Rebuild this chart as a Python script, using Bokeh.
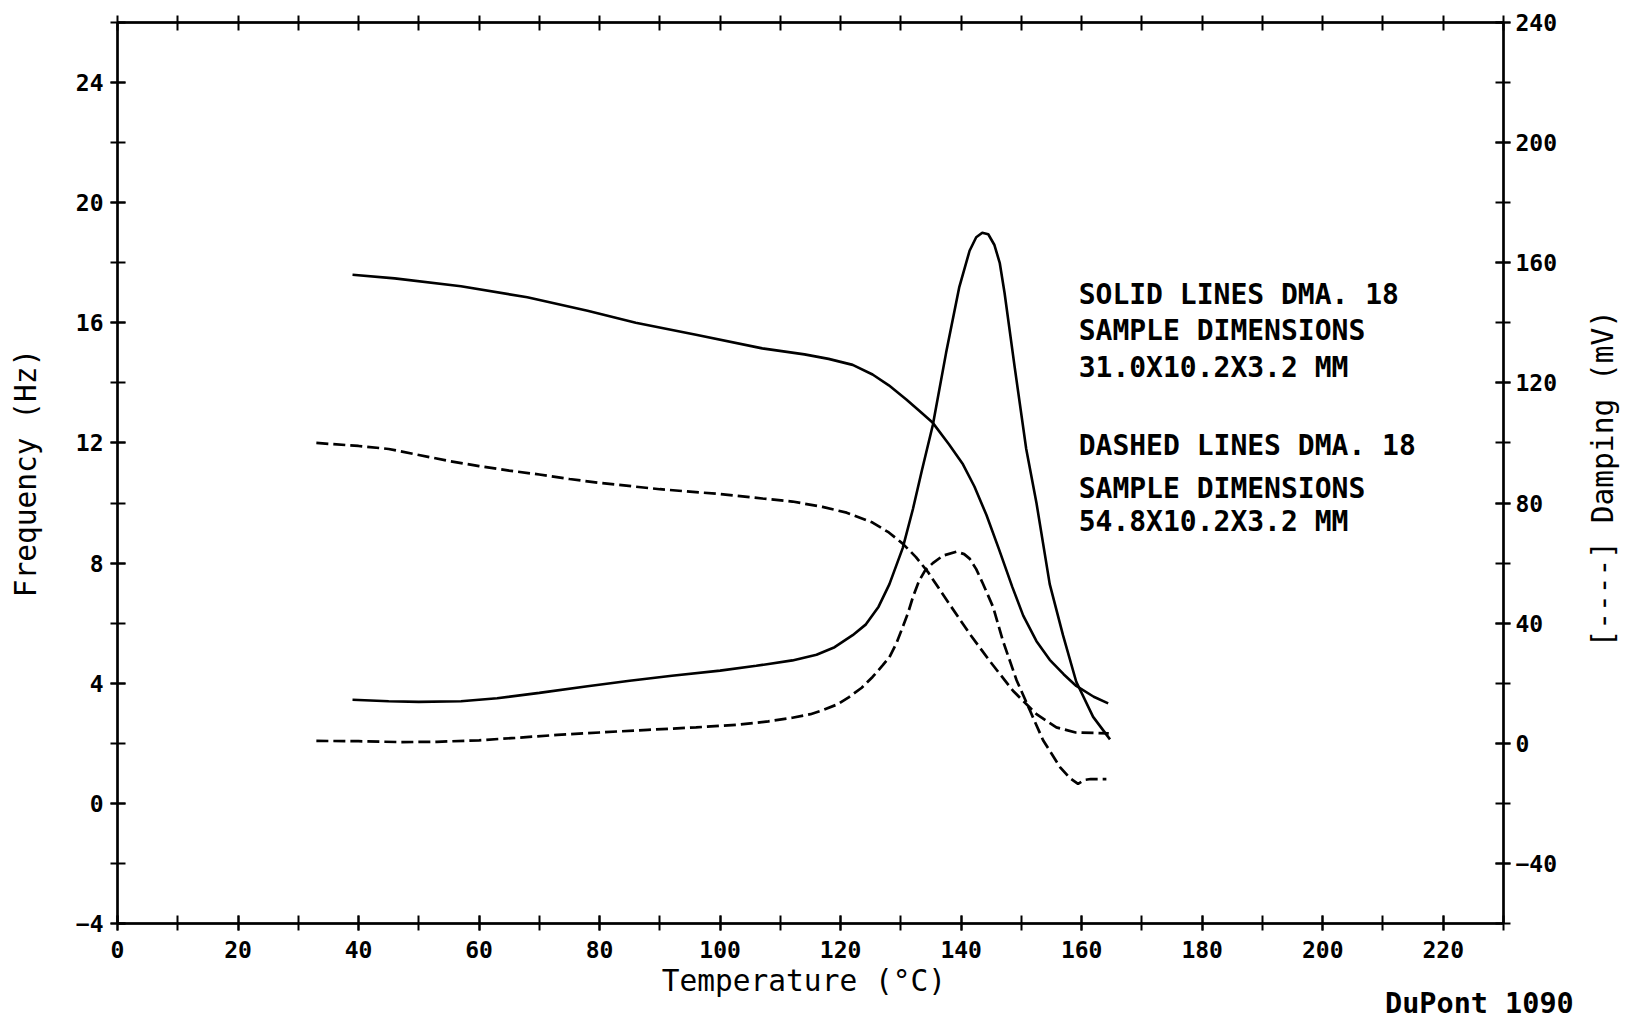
import math
from bokeh.plotting import figure
from bokeh.models import Range1d, LinearAxis, FixedTicker
from bokeh.embed import file_html
from bokeh.resources import INLINE
from bokeh.core.properties import value

# ---------------- data ----------------
# solid lines: sample 31.0 x 10.2 x 3.2 mm
solid_freq_t = [39, 46, 57, 68, 78, 86, 96, 107, 114, 118, 122, 125.3, 128, 130.9, 133,
                135.3, 138, 140.3, 142.2, 144.2, 146.3, 148.5, 150.3, 152.5, 154.7, 157,
                159.1, 162, 164.4]
solid_freq_hz = [17.6, 17.48, 17.22, 16.85, 16.4, 16.0, 15.6, 15.15, 14.95, 14.8, 14.6, 14.28,
                 13.92, 13.45, 13.08, 12.67, 11.95, 11.29, 10.55, 9.6, 8.45, 7.2, 6.25, 5.4,
                 4.78, 4.3, 3.91, 3.55, 3.33]

solid_damp_t = [39, 45, 50, 57, 63, 70, 78, 85, 92, 100, 106, 112, 116, 119, 122, 124.2,
                126.3, 128.1, 130.3, 132, 133.5, 135.3, 137.5, 139.7, 141.4, 142.5, 143.5,
                144.5, 145.5, 146.4, 147.2, 148.9, 150.8, 152.5, 154.7, 156.9, 159.1, 161.9,
                164.7]
solid_damp_mv = [14.5, 14.0, 13.8, 14.0, 15.0, 16.8, 19.0, 20.8, 22.5, 24.2, 25.8, 27.6, 29.5,
                 32.0, 36.0, 39.6, 45.5, 53, 65, 78, 91, 106, 130, 152, 164, 168.5, 170, 169.5,
                 166, 160, 150, 125, 98, 80, 53, 36, 20.5, 8.8, 1.3]

# dashed lines: sample 54.8 x 10.2 x 3.2 mm
dashed_freq_t = [33, 40, 45, 50, 55, 60, 65, 70, 75, 80, 90, 100, 107, 112, 117, 121, 125.3,
                 128, 130.3, 132.5, 134.5, 138, 141.4, 144.7, 148.6, 152.5, 155.8, 159, 164.5]
dashed_freq_hz = [12.0, 11.9, 11.8, 11.6, 11.4, 11.23, 11.08, 10.95, 10.8, 10.67, 10.46, 10.3,
                  10.15, 10.05, 9.87, 9.68, 9.35, 9.02, 8.65, 8.2, 7.7, 6.65, 5.65, 4.75, 3.75,
                  2.97, 2.53, 2.36, 2.33]

dashed_damp_t = [33, 40, 47, 53, 60, 66, 73, 80, 88, 96, 103, 108, 112, 115, 117, 119.5, 121.4,
                 123.5, 125.3, 127, 128.1, 129.3, 130.3, 131.2, 132, 133, 134, 135.3, 137,
                 139.2, 140.5, 141.4, 142.5, 143.6, 145.3, 146.9, 149.2, 151.4, 153.6, 156.4,
                 158, 159.4, 160.5, 161.5, 164.1]
dashed_damp_mv = [0.8, 0.7, 0.4, 0.5, 1.0, 1.8, 2.8, 3.6, 4.5, 5.3, 6.2, 7.3, 8.5, 9.7, 11.0,
                  13.0, 15.4, 18.5, 22.1, 26, 28.7, 33.5, 38.7, 43.5, 48.7, 54, 57.5, 60, 62.5,
                  63.8, 63, 61.5, 58, 53.2, 45.4, 34.3, 21, 11, 1, -7.9, -11.5, -13.5, -12.2,
                  -11.9, -11.9]

x_labels = list(range(0, 221, 20))
x_minor = list(range(0, 231, 10))
freq_labels = list(range(-4, 25, 4))
freq_minor = list(range(-4, 27, 2))
damp_labels = list(range(-40, 241, 40))
damp_minor = list(range(-60, 241, 20))

notes = ["SOLID LINES DMA. 18", "SAMPLE DIMENSIONS", "31.0X10.2X3.2 MM",
         "DASHED LINES DMA. 18", "SAMPLE DIMENSIONS", "54.8X10.2X3.2 MM"]
notes_x = [159.5] * 6
notes_y = [16.94, 15.76, 14.51, 11.9, 10.5, 9.38]

x_title = "Temperature (°C)"
x_title_at = 113.9
freq_title = "Frequency (Hz)"
damp_title = "[----] Damping (mV)"
damp_title_at = 31.9
maker_text = "DuPont 1090"
maker_x = 226

FONT = "DejaVu Sans Mono"
TITLE_SIZE = "29.5px"

# ---------------- figure ----------------
p = figure(width=1640, height=1022, output_backend="svg", toolbar_location=None,
           x_range=Range1d(0, 230), y_range=Range1d(-4, 26),
           min_border_left=117, min_border_right=137, min_border_top=22,
           min_border_bottom=99)
p.extra_y_ranges = {"damp": Range1d(-60, 240)}
p.xgrid.visible = False
p.ygrid.visible = False
p.outline_line_color = "black"
p.outline_line_width = 2
p.background_fill_color = "white"
p.border_fill_color = "white"


def style(ax, standoff):
    ax.axis_line_width = 2.4
    ax.axis_line_color = "black"
    ax.major_tick_line_width = 2
    ax.minor_tick_line_width = 2
    ax.major_tick_line_color = "black"
    ax.minor_tick_line_color = "black"
    ax.major_tick_in = 8
    ax.major_tick_out = 7
    ax.minor_tick_in = 8
    ax.minor_tick_out = 7
    ax.major_label_text_font = FONT
    ax.major_label_text_font_style = "bold"
    ax.major_label_text_font_size = "23px"
    ax.major_label_text_color = "black"
    ax.major_label_standoff = standoff
    ax.axis_label_text_font = FONT
    ax.axis_label_text_font_style = "normal"
    ax.axis_label_text_font_size = TITLE_SIZE
    ax.axis_label_text_color = "black"


def bare(ax):
    ax.axis_line_color = None
    ax.major_tick_line_color = None
    ax.minor_tick_line_color = None
    ax.major_tick_in = 0
    ax.major_tick_out = 0
    ax.minor_tick_in = 0
    ax.minor_tick_out = 0


xa = p.xaxis[0]
xa.ticker = FixedTicker(ticks=x_labels, minor_ticks=x_minor)
style(xa, 10)

ya = p.yaxis[0]
ya.ticker = FixedTicker(ticks=freq_labels, minor_ticks=freq_minor)
style(ya, 7)
ya.axis_label = freq_title
ya.axis_label_standoff = 30

ra = LinearAxis(y_range_name="damp", ticker=FixedTicker(ticks=damp_labels, minor_ticks=damp_minor))
style(ra, 5)
p.add_layout(ra, "right")

# right-hand title, reading upwards, drawn as a tick label of a bare axis
da = LinearAxis(y_range_name="damp", ticker=FixedTicker(ticks=[damp_title_at], minor_ticks=[]),
                major_label_overrides={damp_title_at: damp_title},
                major_label_orientation=math.pi / 2)
style(da, 43)
bare(da)
da.major_label_text_font_style = "normal"
da.major_label_text_font_size = TITLE_SIZE
p.add_layout(da, "right")

ta = LinearAxis(ticker=FixedTicker(ticks=[], minor_ticks=x_minor))
style(ta, 0)
p.add_layout(ta, "above")

# temperature title, drawn as a tick label of a bare axis under the numbers
ka = LinearAxis(ticker=FixedTicker(ticks=[x_title_at], minor_ticks=[]),
                major_label_overrides={x_title_at: x_title})
style(ka, 3)
bare(ka)
ka.major_label_text_font_style = "normal"
ka.major_label_text_font_size = TITLE_SIZE
p.add_layout(ka, "below")

# maker's imprint, placed under the temperature title
ma = LinearAxis(ticker=FixedTicker(ticks=[maker_x], minor_ticks=[]),
                major_label_overrides={maker_x: maker_text})
style(ma, -14)
bare(ma)
ma.major_label_text_font_size = "28.5px"
p.add_layout(ma, "below")

# ---------------- curves ----------------
p.line(solid_freq_t, solid_freq_hz, line_color="black", line_width=2.6)
p.line(solid_damp_t, solid_damp_mv, y_range_name="damp", line_color="black", line_width=2.6)
p.line(dashed_freq_t, dashed_freq_hz, line_color="black", line_width=2.7, line_dash="12 5")
p.line(dashed_damp_t, dashed_damp_mv, y_range_name="damp", line_color="black", line_width=2.7,
       line_dash="12 5")

# ---------------- annotation text ----------------
p.text(x=notes_x, y=notes_y, text=notes, text_font=value(FONT), text_font_style="bold",
       text_font_size="28px", text_align="left", text_baseline="middle", text_color="black")

open("out.html", "w").write(file_html(p, INLINE))
